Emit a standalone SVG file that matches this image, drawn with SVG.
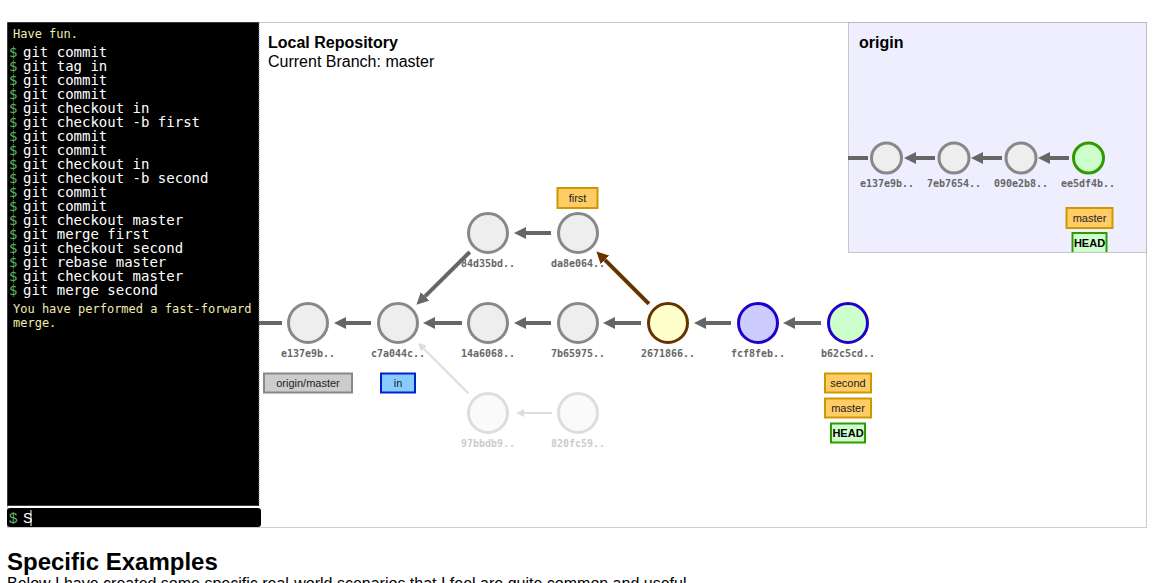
<svg xmlns="http://www.w3.org/2000/svg" width="1168" height="583" viewBox="0 0 1168 583">
<style>
.term{font-family:"DejaVu Sans Mono",monospace;font-size:14px;fill:#fff}
.dol{font-family:"DejaVu Sans Mono",monospace;font-size:14px;fill:#5cb85c}
.msg{font-family:"DejaVu Sans Mono",monospace;font-size:12px;fill:#f0ecb0}
.title{font-family:"Liberation Sans",Arial,sans-serif;font-size:16px;font-weight:bold;fill:#000}
.sub{font-family:"Liberation Sans",Arial,sans-serif;font-size:16px;fill:#000}
.c{fill:#eee;stroke:#888;stroke-width:3}
.cf{fill:#fafafa;stroke:#ddd;stroke-width:3}
.lbl{font-family:"DejaVu Sans Mono",monospace;font-size:10px;font-weight:bold;fill:#666;text-anchor:middle}
.lblf{font-family:"DejaVu Sans Mono",monospace;font-size:10px;font-weight:bold;fill:#ccc;text-anchor:middle}
.ar{stroke:#666;stroke-width:4;fill:none}
.arb{stroke:#663300;stroke-width:4;fill:none}
.arf{stroke:#ddd;stroke-width:2;fill:none}
.tag{stroke-width:2}
.tagt{font-family:"Liberation Sans",Arial,sans-serif;font-size:11px;fill:#222;text-anchor:middle}
.br{fill:#ffcc66;stroke:#cc9900}
.hd{fill:#ccffcc;stroke:#339900}
.dot{fill:none;stroke:#999;stroke-width:1;stroke-dasharray:1,1}
</style>
<defs>
<marker id="ah" markerUnits="userSpaceOnUse" markerWidth="12" markerHeight="12" refX="0" refY="6" orient="auto"><path d="M0,0 L12,6 L0,12 Z" fill="#666"/></marker>
<marker id="ahb" markerUnits="userSpaceOnUse" markerWidth="12" markerHeight="12" refX="0" refY="6" orient="auto"><path d="M0,0 L12,6 L0,12 Z" fill="#663300"/></marker>
<marker id="ahf" markerUnits="userSpaceOnUse" markerWidth="8" markerHeight="8" refX="0" refY="4" orient="auto"><path d="M0,0 L8,4 L0,8 Z" fill="#ddd"/></marker>
<clipPath id="oclip"><rect x="848" y="22" width="298" height="230"/></clipPath>
</defs>

<rect x="0" y="0" width="1168" height="583" fill="#fff"/>

<!-- outer frame -->
<rect x="7.5" y="22.5" width="1139" height="505" class="dot"/>

<!-- origin box -->
<rect id="origin-box" x="848.5" y="22.5" width="298" height="230" class="dot" style="fill:#eeeeff"/>

<!-- terminal -->
<g id="terminal">
<rect x="7" y="22" width="252" height="484" fill="#000"/>
<rect x="7.5" y="22.5" width="251.5" height="483" fill="none" stroke="#777" stroke-dasharray="1,1"/>
<text class="msg" x="13" y="38">Have fun.</text>
<g class="dol">
<text x="9" y="57">$</text><text x="9" y="71">$</text><text x="9" y="85">$</text><text x="9" y="99">$</text>
<text x="9" y="113">$</text><text x="9" y="127">$</text><text x="9" y="141">$</text><text x="9" y="155">$</text>
<text x="9" y="169">$</text><text x="9" y="183">$</text><text x="9" y="197">$</text><text x="9" y="211">$</text>
<text x="9" y="225">$</text><text x="9" y="239">$</text><text x="9" y="253">$</text><text x="9" y="267">$</text>
<text x="9" y="281">$</text><text x="9" y="295">$</text>
</g>
<g class="term">
<text x="23" y="57">git commit</text>
<text x="23" y="71">git tag in</text>
<text x="23" y="85">git commit</text>
<text x="23" y="99">git commit</text>
<text x="23" y="113">git checkout in</text>
<text x="23" y="127">git checkout -b first</text>
<text x="23" y="141">git commit</text>
<text x="23" y="155">git commit</text>
<text x="23" y="169">git checkout in</text>
<text x="23" y="183">git checkout -b second</text>
<text x="23" y="197">git commit</text>
<text x="23" y="211">git commit</text>
<text x="23" y="225">git checkout master</text>
<text x="23" y="239">git merge first</text>
<text x="23" y="253">git checkout second</text>
<text x="23" y="267">git rebase master</text>
<text x="23" y="281">git checkout master</text>
<text x="23" y="295">git merge second</text>
</g>
<text class="msg" x="13" y="313">You have performed a fast-forward</text>
<text class="msg" x="13" y="327">merge.</text>
<rect x="7" y="508" width="254" height="19" rx="3" fill="#000"/>
<text x="9" y="523" font-family="Liberation Sans, Arial, sans-serif" font-size="15" fill="#5cb85c">$</text>
<text x="23" y="523" font-family="Liberation Sans, Arial, sans-serif" font-size="14" fill="#fff">S</text>
<line x1="31" y1="510" x2="31" y2="526" stroke="#fff" stroke-width="1"/>
</g>

<text class="title" x="268" y="48">Local Repository</text>
<text class="sub" x="268" y="67">Current Branch: master</text>
<text class="title" x="859" y="48">origin</text>

<!-- connectors -->
<g id="connectors">
<line class="ar" x1="259" y1="323" x2="282" y2="323"/>
<line class="ar" x1="371" y1="323" x2="346" y2="323" marker-end="url(#ah)"/>
<line class="ar" x1="462" y1="323" x2="435" y2="323" marker-end="url(#ah)"/>
<line class="ar" x1="551" y1="323" x2="526" y2="323" marker-end="url(#ah)"/>
<line class="ar" x1="641" y1="323" x2="615" y2="323" marker-end="url(#ah)"/>
<line class="ar" x1="731" y1="323" x2="706" y2="323" marker-end="url(#ah)"/>
<line class="ar" x1="821" y1="323" x2="795" y2="323" marker-end="url(#ah)"/>
<line class="ar" x1="551" y1="233" x2="526" y2="233" marker-end="url(#ah)"/>
<line class="ar" x1="469.8" y1="252" x2="425" y2="296.3" marker-end="url(#ah)"/>
<line class="arb" x1="648.9" y1="303.9" x2="604.9" y2="259.9" marker-end="url(#ahb)"/>
<line class="arf" x1="468.5" y1="393.5" x2="423.7" y2="348.6" marker-end="url(#ahf)"/>
<line class="arf" x1="552" y1="413" x2="524" y2="413" marker-end="url(#ahf)"/>
<line class="ar" x1="848" y1="158" x2="868" y2="158"/>
<line class="ar" x1="935" y1="158" x2="916" y2="158" marker-end="url(#ah)"/>
<line class="ar" x1="1002" y1="158" x2="983" y2="158" marker-end="url(#ah)"/>
<line class="ar" x1="1069" y1="158" x2="1050" y2="158" marker-end="url(#ah)"/>
</g>

<!-- local nodes -->
<g id="n-e137e9b"><circle class="c" cx="308" cy="323" r="19.5"/><text class="lbl" x="308" y="357">e137e9b..</text></g>
<g id="n-c7a044c"><circle class="c" cx="398" cy="323" r="19.5"/><text class="lbl" x="398" y="357">c7a044c..</text></g>
<g id="n-14a6068"><circle class="c" cx="488" cy="323" r="19.5"/><text class="lbl" x="488" y="357">14a6068..</text></g>
<g id="n-7b65975"><circle class="c" cx="578" cy="323" r="19.5"/><text class="lbl" x="578" y="357">7b65975..</text></g>
<g id="n-2671866"><circle cx="668" cy="323" r="19.5" fill="#ffffcc" stroke="#663300" stroke-width="3"/><text class="lbl" x="668" y="357">2671866..</text></g>
<g id="n-fcf8feb"><circle cx="758" cy="323" r="19.5" fill="#ccccff" stroke="#2200cc" stroke-width="3"/><text class="lbl" x="758" y="357">fcf8feb..</text></g>
<g id="n-b62c5cd"><circle cx="848" cy="323" r="19.5" fill="#ccffcc" stroke="#2200cc" stroke-width="3"/><text class="lbl" x="848" y="357">b62c5cd..</text></g>
<g id="n-84d35bd"><circle class="c" cx="488" cy="233" r="19.5"/><text class="lbl" x="488" y="267">84d35bd..</text></g>
<g id="n-da8e064"><circle class="c" cx="578" cy="233" r="19.5"/><text class="lbl" x="578" y="267">da8e064..</text></g>
<g id="n-97bbdb9"><circle class="cf" cx="488" cy="413" r="19.5"/><text class="lblf" x="488" y="447">97bbdb9..</text></g>
<g id="n-820fc59"><circle class="cf" cx="578" cy="413" r="19.5"/><text class="lblf" x="578" y="447">820fc59..</text></g>

<!-- local tags -->
<g id="tag-first"><rect class="tag br" x="557.5" y="188" width="40" height="20"/><text class="tagt" x="577.5" y="202">first</text></g>
<g id="tag-origin-master"><rect class="tag" x="264" y="373.5" width="88" height="19" fill="#ccc" stroke="#888"/><text class="tagt" x="308" y="387">origin/master</text></g>
<g id="tag-in"><rect class="tag" x="381" y="373.5" width="34" height="19" fill="#88ccff" stroke="#0022cc"/><text class="tagt" x="398" y="387">in</text></g>
<g id="tag-second"><rect class="tag br" x="825" y="373.5" width="46" height="19"/><text class="tagt" x="848" y="387">second</text></g>
<g id="tag-master"><rect class="tag br" x="825" y="398.5" width="46" height="19"/><text class="tagt" x="848" y="412">master</text></g>
<g id="tag-head"><rect class="tag hd" x="831" y="423.5" width="34" height="19"/><text class="tagt" x="848" y="437" font-weight="bold" style="fill:#000">HEAD</text></g>

<!-- origin nodes -->
<g id="o-e137e9b"><circle class="c" cx="886.5" cy="158" r="15"/><text class="lbl" x="887" y="187">e137e9b..</text></g>
<g id="o-7eb7654"><circle class="c" cx="954" cy="158" r="15"/><text class="lbl" x="954" y="187">7eb7654..</text></g>
<g id="o-090e2b8"><circle class="c" cx="1021" cy="158" r="15"/><text class="lbl" x="1021" y="187">090e2b8..</text></g>
<g id="o-ee5df4b"><circle cx="1088.5" cy="158" r="15" fill="#ccffcc" stroke="#339900" stroke-width="3"/><text class="lbl" x="1088" y="187">ee5df4b..</text></g>
<g id="o-tags" clip-path="url(#oclip)">
<rect class="tag br" x="1066.5" y="208" width="46" height="20"/><text class="tagt" x="1089.5" y="222">master</text>
<rect class="tag hd" x="1072.5" y="233" width="34" height="20"/><text class="tagt" x="1089.5" y="247" font-weight="bold" style="fill:#000">HEAD</text>
</g>

<text x="7" y="570" font-family="Liberation Sans, Arial, sans-serif" font-size="24" font-weight="bold" fill="#000">Specific Examples</text>
<text x="7" y="589" font-family="Liberation Sans, Arial, sans-serif" font-size="16" fill="#000">Below I have created some specific real-world scenarios that I feel are quite common and useful.</text>
</svg>
